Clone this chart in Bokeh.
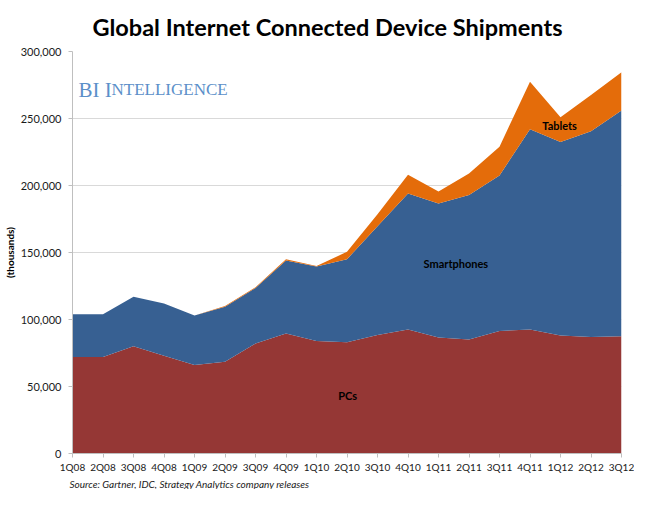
from bokeh.plotting import figure
from bokeh.models import (ColumnDataSource, Range1d, FixedTicker, NumeralTickFormatter, Label, Title)
from bokeh.embed import file_html
from bokeh.resources import INLINE

quarters = ["1Q08", "2Q08", "3Q08", "4Q08", "1Q09", "2Q09", "3Q09", "4Q09", "1Q10", "2Q10",
            "3Q10", "4Q10", "1Q11", "2Q11", "3Q11", "4Q11", "1Q12", "2Q12", "3Q12"]
pcs = [72000, 72000, 80000, 73000, 66000, 68500, 82000, 89500, 84000, 83000,
       88500, 92500, 86500, 85000, 91500, 92500, 88000, 87000, 87500]
smartphones = [32000, 32000, 37000, 39000, 37000, 41000, 41500, 54500, 55500, 62000,
               81000, 101500, 100000, 108000, 116000, 149500, 144500, 153500, 168500]
tablets = [0, 0, 0, 0, 0, 500, 500, 1000, 500, 5500,
           9000, 14000, 9000, 16000, 21500, 35500, 18500, 27000, 28500]
y_ticks = [0, 50000, 100000, 150000, 200000, 250000, 300000]

FONT = "Lato"

source = ColumnDataSource(dict(
    x=list(range(len(quarters))),
    pcs=pcs, smartphones=smartphones, tablets=tablets,
))

p = figure(width=634, height=489, output_backend="svg", toolbar_location=None,
           x_range=Range1d(0, len(quarters) - 1), y_range=Range1d(0, 300000),
           min_border_left=70, min_border_right=13, min_border_top=51, min_border_bottom=32)

p.varea_stack(stackers=["pcs", "smartphones", "tablets"], x="x",
              color=["#953735", "#376092", "#E46C0A"], source=source)

p.outline_line_color = None
p.background_fill_color = "white"
p.border_fill_color = "white"

# title
p.title.text = "Global Internet Connected Device Shipments"
p.title.text_font = FONT
p.title.text_font_style = "bold"
p.title.text_font_size = "23.5px"
p.title.text_color = "black"
p.title.align = "left"
p.title.offset = 20
p.title.standoff = 21

# source note
p.add_layout(Title(text="Source: Gartner, IDC, Strategy Analytics company releases",
                   text_font=FONT, text_font_style="italic", text_font_size="10px",
                   text_color="#1a1a1a", align="left", offset=-3, standoff=0), "below")

# grid
p.xgrid.grid_line_color = None
p.ygrid.grid_line_color = "#d9d9d9"
p.ygrid.grid_line_width = 1
p.ygrid.level = "underlay"

# x axis
p.xaxis.ticker = FixedTicker(ticks=list(range(len(quarters))))
p.xaxis.major_label_overrides = {i: q for i, q in enumerate(quarters)}
p.xaxis.minor_tick_line_color = None
p.xaxis.major_tick_in = 0
p.xaxis.major_tick_out = 4
p.xaxis.axis_line_color = "#bfbfbf"
p.xaxis.major_tick_line_color = "#bfbfbf"
p.xaxis.major_label_text_font = FONT
p.xaxis.major_label_text_font_size = "10px"
p.xaxis.major_label_text_color = "#1a1a1a"
p.xaxis.major_label_standoff = 3

# y axis
p.yaxis.ticker = FixedTicker(ticks=y_ticks)
p.yaxis.formatter = NumeralTickFormatter(format="0,0")
p.yaxis.minor_tick_line_color = None
p.yaxis.major_tick_in = 0
p.yaxis.major_tick_out = 4
p.yaxis.axis_line_color = "#bfbfbf"
p.yaxis.major_tick_line_color = "#bfbfbf"
p.yaxis.major_label_text_font = FONT
p.yaxis.major_label_text_font_size = "11px"
p.yaxis.major_label_text_color = "#1a1a1a"
p.yaxis.major_label_standoff = 7
p.yaxis.axis_label = "(thousands)"
p.yaxis.axis_label_text_font = FONT
p.yaxis.axis_label_text_font_style = "bold"
p.yaxis.axis_label_text_font_size = "10px"
p.yaxis.axis_label_text_color = "black"
p.yaxis.axis_label_standoff = 2

# BI Intelligence logo (small caps simulated)
p.add_layout(Label(x=6, y=364, x_units="screen", y_units="screen",
                   text="BI I", text_font="Liberation Serif", text_font_size="21px",
                   text_color="#5b8fc9", text_align="left", text_baseline="alphabetic"))
p.add_layout(Label(x=39, y=364, x_units="screen", y_units="screen",
                   text="NTELLIGENCE", text_font="Liberation Serif", text_font_size="17px",
                   text_color="#5b8fc9", text_align="left", text_baseline="alphabetic"))

# series labels
for txt, xx, yy in [("PCs", 9.02, 43400), ("Smartphones", 12.57, 141900), ("Tablets", 15.97, 244900)]:
    p.add_layout(Label(x=xx, y=yy, text=txt, text_font=FONT, text_font_style="bold",
                       text_font_size="11px", text_color="black",
                       text_align="center", text_baseline="middle"))

open("out.html", "w").write(file_html(p, INLINE))
